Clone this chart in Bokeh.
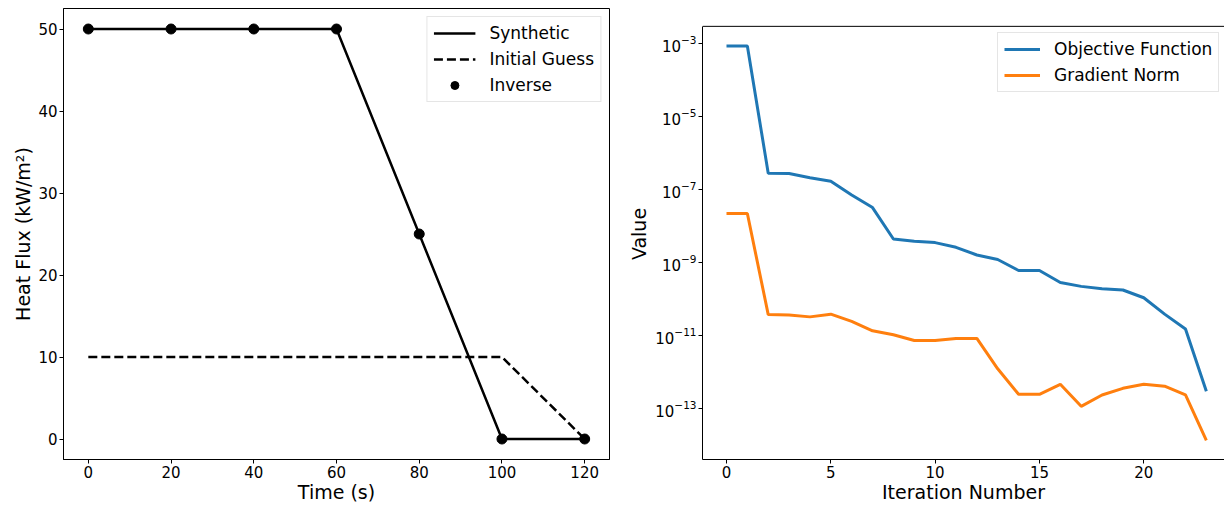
from bokeh.plotting import figure
from bokeh.layouts import row
from bokeh.models import FixedTicker, LogTickFormatter, Span
from bokeh.embed import file_html
from bokeh.resources import INLINE

# ---- data: left panel ----
time_s = [0, 20, 40, 60, 80, 100, 120]
synthetic = [50, 50, 50, 50, 25, 0, 0]
initial_guess = [10, 10, 10, 10, 10, 10, 0]
inverse = [50, 50, 50, 50, 25, 0, 0]
time_ticks = [0, 20, 40, 60, 80, 100, 120]
flux_ticks = [0, 10, 20, 30, 40, 50]

# ---- data: right panel ----
iterations = list(range(24))
objective = [8.7e-4, 8.7e-4, 2.8e-7, 2.75e-7, 2.1e-7, 1.7e-7, 7.1e-8, 3.2e-8,
             4.4e-9, 3.8e-9, 3.5e-9, 2.6e-9, 1.6e-9, 1.2e-9, 6.0e-10, 6.0e-10,
             2.8e-10, 2.2e-10, 1.9e-10, 1.75e-10, 1.07e-10, 3.8e-11, 1.48e-11, 2.9e-13]
gradient = [2.2e-8, 2.2e-8, 3.7e-11, 3.6e-11, 3.2e-11, 3.8e-11, 2.4e-11, 1.33e-11,
            1.03e-11, 7.2e-12, 7.2e-12, 8.2e-12, 8.2e-12, 1.2e-12, 2.4e-13, 2.4e-13,
            4.5e-13, 1.12e-13, 2.3e-13, 3.5e-13, 4.5e-13, 4.0e-13, 2.3e-13, 1.3e-14]
iter_ticks = [0, 5, 10, 15, 20]
value_ticks = [1e-3, 1e-5, 1e-7, 1e-9, 1e-11, 1e-13]

FONT = "DejaVu Sans"
V_LO, V_HI = 10 ** -14.41, 10 ** -2.52   # visible axes box of the right panel
V_TOP = 10 ** -2.03                      # extra headroom above the box


def style_axis(ax, label):
    ax.axis_label = label
    ax.axis_label_text_font = FONT
    ax.axis_label_text_font_size = "19px"
    ax.axis_label_text_font_style = "normal"
    ax.axis_label_text_color = "black"
    ax.axis_label_standoff = 0
    ax.major_label_text_font = FONT
    ax.major_label_text_font_size = "15px"
    ax.major_label_text_color = "black"
    ax.major_label_standoff = 2
    ax.major_tick_in = 0
    ax.major_tick_out = 4
    ax.major_tick_line_color = "black"
    ax.minor_tick_line_color = None
    ax.axis_line_color = "black"


def style_legend(lg):
    lg.padding = 6
    lg.spacing = 6
    lg.glyph_width = 36
    lg.glyph_height = 20
    lg.label_height = 20
    lg.label_standoff = 14
    lg.label_text_font = FONT
    lg.label_text_font_size = "17px"
    lg.label_text_color = "black"
    lg.border_line_color = "#cccccc"
    lg.background_fill_alpha = 0.8


# ---- left figure ----
p1 = figure(width=620, height=505, x_range=(-6, 126), y_range=(-2.5, 52.5),
            title=None, output_backend="svg", toolbar_location=None,
            min_border_left=63, min_border_right=11, min_border_top=8, min_border_bottom=0)
p1.grid.visible = False
p1.outline_line_color = "black"
p1.outline_line_width = 1
p1.xaxis.ticker = FixedTicker(ticks=time_ticks)
p1.yaxis.ticker = FixedTicker(ticks=flux_ticks)
style_axis(p1.xaxis[0], "Time (s)")
style_axis(p1.yaxis[0], "Heat Flux (kW/m²)")
p1.yaxis[0].axis_label_standoff = 1

p1.line(time_s, synthetic, line_color="black", line_width=2.5, legend_label="Synthetic")
p1.line(time_s, initial_guess, line_color="black", line_width=2.5, line_dash="9 4",
        legend_label="Initial Guess")
p1.scatter(time_s, inverse, marker="circle", size=10, fill_color="black", line_color="black",
           legend_label="Inverse")
style_legend(p1.legend[0])
p1.legend[0].glyph_width = 42
p1.legend[0].location = "top_right"
p1.legend[0].margin = 8

# ---- right figure ----
p2 = figure(width=604, height=505, x_range=(-1.15, 23.87),
            y_range=(V_LO, V_TOP), y_axis_type="log",
            title=None, output_backend="svg", toolbar_location=None,
            min_border_left=82, min_border_right=0, min_border_top=8, min_border_bottom=0)
p2.grid.visible = False
p2.outline_line_color = None
p2.xaxis.ticker = FixedTicker(ticks=iter_ticks)
p2.yaxis.ticker = FixedTicker(ticks=value_ticks)
p2.yaxis.formatter = LogTickFormatter()
p2.yaxis.bounds = (V_LO, V_HI)
style_axis(p2.xaxis[0], "Iteration Number")
style_axis(p2.yaxis[0], "Value")
p2.yaxis[0].axis_label_standoff = 2
p2.add_layout(Span(location=V_HI, dimension="width", line_color="black", line_width=1))

p2.line(iterations, objective, line_color="#1f77b4", line_width=3, legend_label="Objective Function")
p2.line(iterations, gradient, line_color="#ff7f0e", line_width=3, legend_label="Gradient Norm")
style_legend(p2.legend[0])
p2.legend[0].location = (295, 367)
p2.legend[0].margin = 0

layout = row(p1, p2)
open("out.html", "w").write(file_html(layout, INLINE))
